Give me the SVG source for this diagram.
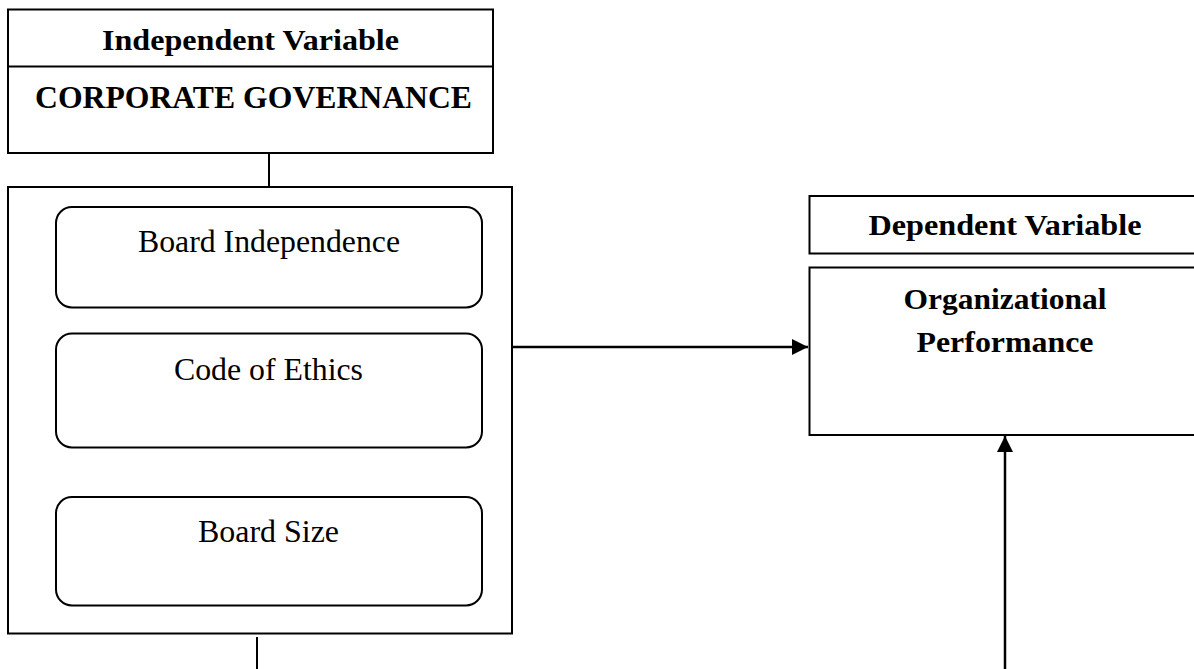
<svg xmlns="http://www.w3.org/2000/svg" width="1194" height="669" viewBox="0 0 1194 669">
<style>
.box{fill:#fff;stroke:#000;stroke-width:2}
.rbox{fill:#fff;stroke:#000;stroke-width:2}
.hd{font-family:"Liberation Serif","Times New Roman",serif;font-weight:bold;font-size:29px;fill:#000}
.big{font-size:30.5px}
.tx{font-family:"Liberation Serif","Times New Roman",serif;font-size:30.5px;fill:#000}
.ln{stroke:#000;stroke-width:2;fill:none}
.ar{stroke:#000;stroke-width:2.5;fill:none}
</style>
<defs>
<marker id="ah" viewBox="0 0 10 10" refX="10" refY="5" markerWidth="16" markerHeight="16" markerUnits="userSpaceOnUse" orient="auto">
<path d="M0,0 L10,5 L0,10 z" fill="#000"/>
</marker>
</defs>
<g id="connectors">
<line class="ln" x1="269" y1="153" x2="269" y2="187"/>
<line class="ar" x1="512" y1="347" x2="808" y2="347" marker-end="url(#ah)"/>
<line class="ar" x1="1005" y1="669" x2="1005" y2="436" marker-end="url(#ah)"/>
<line class="ln" x1="257" y1="637" x2="257" y2="669"/>
</g>
<g id="independent">
<rect class="box" x="8" y="9.5" width="485" height="143.5"/>
<line class="ln" x1="8" y1="66.5" x2="493" y2="66.5"/>
<text class="hd" x="250.5" y="49.5" text-anchor="middle" textLength="297" lengthAdjust="spacingAndGlyphs">Independent Variable</text>
<text class="hd big" x="253.5" y="107.5" text-anchor="middle" textLength="437" lengthAdjust="spacingAndGlyphs">CORPORATE GOVERNANCE</text>
</g>
<g id="dimensions">
<rect class="box" x="8" y="187" width="504" height="446.5"/>
</g>
<g id="board-independence">
<rect class="rbox" x="56" y="207" width="426" height="100.5" rx="16"/>
<text class="tx" x="269" y="251.5" text-anchor="middle" textLength="262" lengthAdjust="spacingAndGlyphs">Board Independence</text>
</g>
<g id="code-of-ethics">
<rect class="rbox" x="56" y="333.5" width="426" height="114" rx="16"/>
<text class="tx" x="268.5" y="379.5" text-anchor="middle" textLength="189" lengthAdjust="spacingAndGlyphs">Code of Ethics</text>
</g>
<g id="board-size">
<rect class="rbox" x="56" y="497" width="426" height="108.5" rx="16"/>
<text class="tx" x="268.5" y="542" text-anchor="middle" textLength="141" lengthAdjust="spacingAndGlyphs">Board Size</text>
</g>
<g id="dependent">
<rect class="box" x="809.5" y="196" width="390" height="57.5"/>
<text class="hd" x="1005" y="235" text-anchor="middle" textLength="273" lengthAdjust="spacingAndGlyphs">Dependent Variable</text>
</g>
<g id="performance">
<rect class="box" x="809.5" y="267.5" width="390" height="167.5"/>
<text class="hd" x="1005" y="308.5" text-anchor="middle" textLength="203" lengthAdjust="spacingAndGlyphs">Organizational</text>
<text class="hd" x="1005" y="352" text-anchor="middle" textLength="177" lengthAdjust="spacingAndGlyphs">Performance</text>
</g>
</svg>
